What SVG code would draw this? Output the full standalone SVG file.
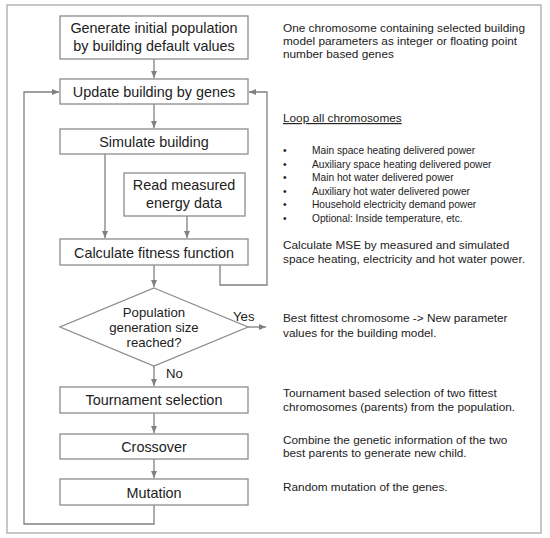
<svg xmlns="http://www.w3.org/2000/svg" width="550" height="538" viewBox="0 0 550 538">
<defs>
<marker id="ah" markerWidth="8" markerHeight="8" refX="7" refY="4" orient="auto" markerUnits="userSpaceOnUse">
<path d="M0,1 L7,4 L0,7 z" fill="#808080"/>
</marker>
<style>
.box{fill:#fff;stroke:#8c8c8c;stroke-width:1.3}
.t{font-family:"Liberation Sans",Arial,sans-serif;font-size:14.4px;fill:#222;text-anchor:middle}
.d{font-family:"Liberation Sans",Arial,sans-serif;font-size:13.2px;fill:#222;text-anchor:middle}
.n{font-family:"Liberation Sans",Arial,sans-serif;font-size:11.8px;fill:#222}
.b{font-family:"Liberation Sans",Arial,sans-serif;font-size:10.2px;fill:#222}
.c{fill:none;stroke:#808080;stroke-width:1.3}
</style>
</defs>
<rect x="7" y="5" width="534" height="528" fill="#fff" stroke="#aaaaaa" stroke-width="1.3"/>
<g id="connectors">
<path class="c" d="M154,59 V78" marker-end="url(#ah)"/>
<path class="c" d="M154,104 V128" marker-end="url(#ah)"/>
<path class="c" d="M105,154 V238" marker-end="url(#ah)"/>
<path class="c" d="M187,216 V238" marker-end="url(#ah)"/>
<path class="c" d="M220,265 V285 H267 V92 H249" marker-end="url(#ah)"/>
<path class="c" d="M154,265 V287" marker-end="url(#ah)"/>
<path class="c" d="M248,327 H266" marker-end="url(#ah)"/>
<path class="c" d="M154,366 V386" marker-end="url(#ah)"/>
<path class="c" d="M154,413 V433" marker-end="url(#ah)"/>
<path class="c" d="M154,459 V478" marker-end="url(#ah)"/>
<path class="c" d="M154,505 V524 H24 V92 H59" marker-end="url(#ah)"/>
<text class="n" x="233" y="321" style="font-size:13.2px">Yes</text>
<text class="n" x="166" y="378" style="font-size:13.2px">No</text>
</g>
<g id="n1"><rect class="box" x="60" y="16" width="188" height="43"/><text class="t" x="154" y="33">Generate initial population</text><text class="t" x="154" y="51">by building default values</text></g>
<g id="n2"><rect class="box" x="60" y="79" width="188" height="25"/><text class="t" x="154" y="97">Update building by genes</text></g>
<g id="n3"><rect class="box" x="60" y="129" width="188" height="25"/><text class="t" x="154" y="147">Simulate building</text></g>
<g id="n4"><rect class="box" x="124" y="173" width="121" height="43"/><text class="t" x="184" y="190">Read measured</text><text class="t" x="184" y="208">energy data</text></g>
<g id="n5"><rect class="box" x="60" y="239" width="188" height="26"/><text class="t" x="154" y="258">Calculate fitness function</text></g>
<g id="n6"><path class="box" d="M154,288 L248,327 L154,366 L60,327 z"/><text class="d" x="154" y="317">Population</text><text class="d" x="154" y="332">generation size</text><text class="d" x="154" y="347">reached?</text></g>
<g id="n7"><rect class="box" x="60" y="387" width="188" height="26"/><text class="t" x="154" y="405">Tournament selection</text></g>
<g id="n8"><rect class="box" x="60" y="434" width="188" height="25"/><text class="t" x="154" y="452">Crossover</text></g>
<g id="n9"><rect class="box" x="60" y="479" width="188" height="26"/><text class="t" x="154" y="498">Mutation</text></g>
<g id="notes">
<text class="n" x="283" y="32">One chromosome containing selected building</text>
<text class="n" x="283" y="45">model parameters as integer or floating point</text>
<text class="n" x="283" y="58">number based genes</text>
<text class="n" x="283" y="122" text-decoration="underline">Loop all chromosomes</text>
<text class="b" x="283" y="154">•</text><text class="b" x="312" y="154">Main space heating delivered power</text>
<text class="b" x="283" y="168">•</text><text class="b" x="312" y="168">Auxiliary space heating delivered power</text>
<text class="b" x="283" y="181">•</text><text class="b" x="312" y="181">Main hot water delivered power</text>
<text class="b" x="283" y="195">•</text><text class="b" x="312" y="195">Auxiliary hot water delivered power</text>
<text class="b" x="283" y="208">•</text><text class="b" x="312" y="208">Household electricity demand power</text>
<text class="b" x="283" y="222">•</text><text class="b" x="312" y="222">Optional: Inside temperature, etc.</text>
<text class="n" x="283" y="249">Calculate MSE by measured and simulated</text>
<text class="n" x="283" y="263">space heating, electricity and hot water power.</text>
<text class="n" x="283" y="322">Best fittest chromosome -&gt; New parameter</text>
<text class="n" x="283" y="337">values for the building model.</text>
<text class="n" x="283" y="397">Tournament based selection of two fittest</text>
<text class="n" x="283" y="411">chromosomes (parents) from the population.</text>
<text class="n" x="283" y="444">Combine the genetic information of the two</text>
<text class="n" x="283" y="457">best parents to generate new child.</text>
<text class="n" x="283" y="491">Random mutation of the genes.</text>
</g>
</svg>
